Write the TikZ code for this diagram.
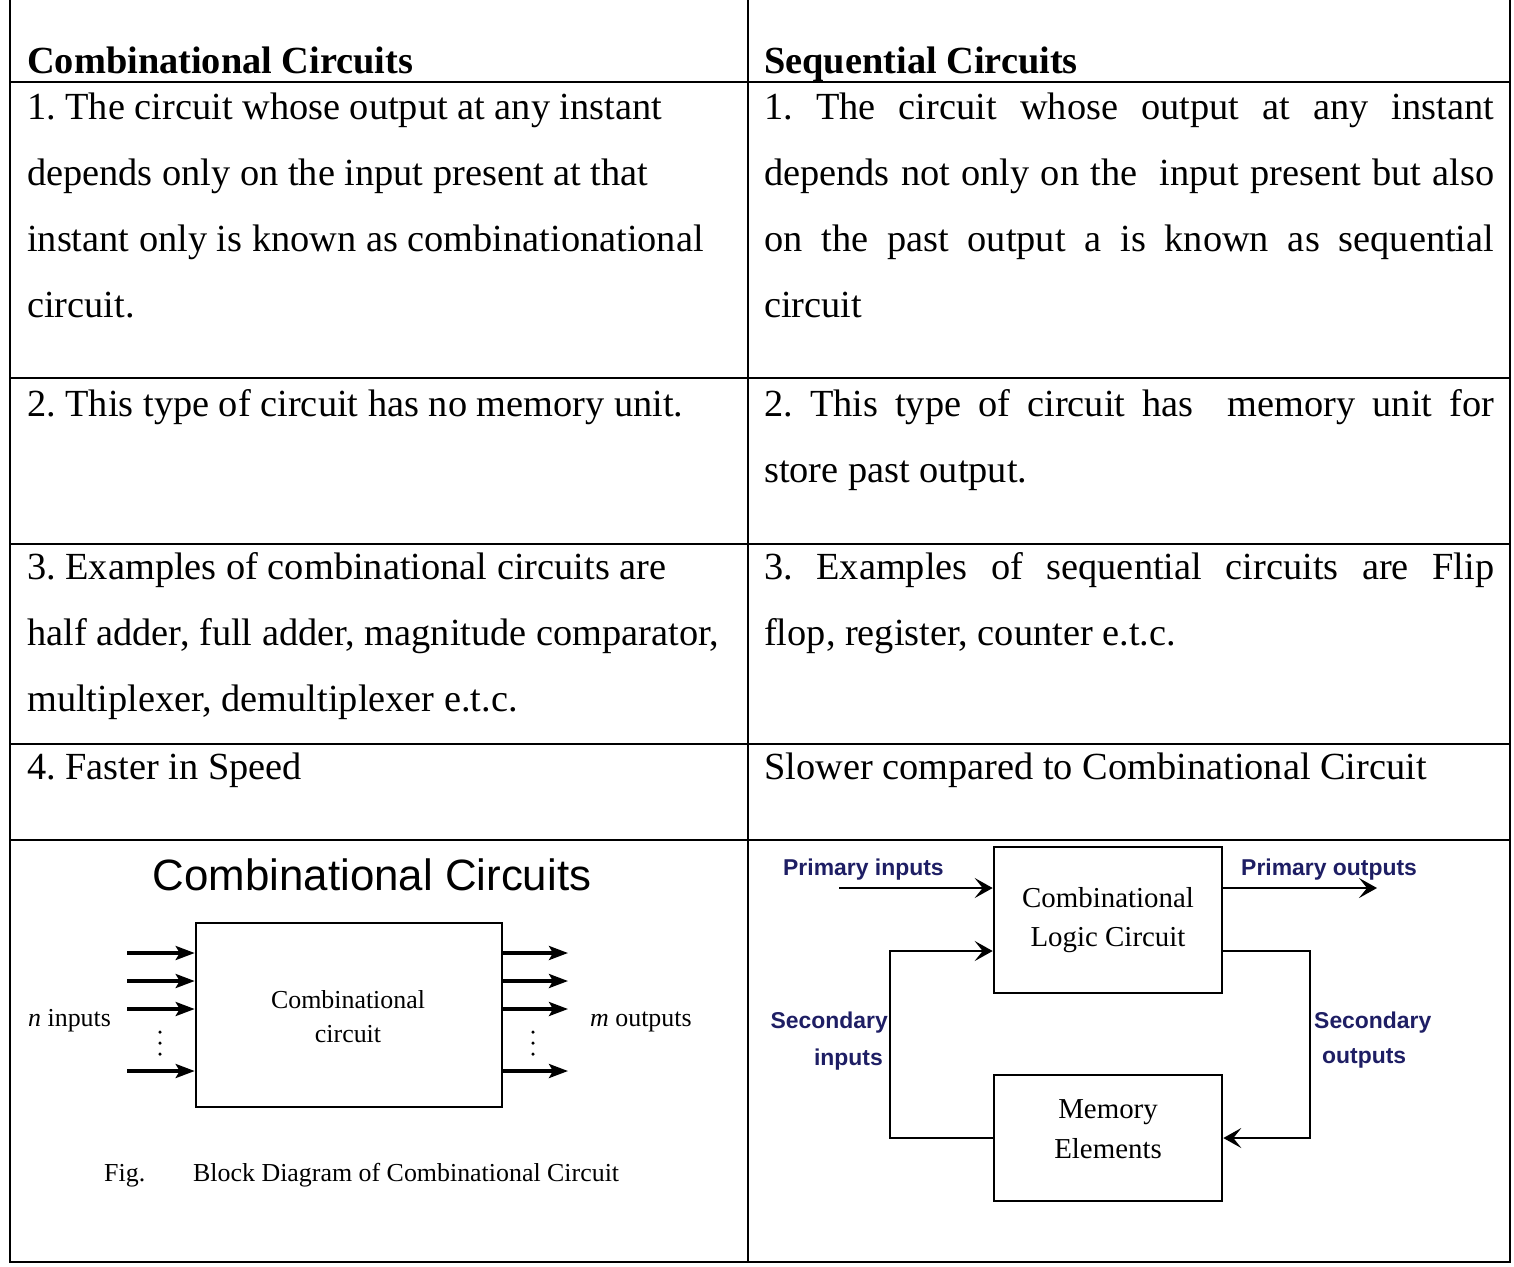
\documentclass[tikz,border=0pt]{standalone}
\usepackage{fontspec}
\setmainfont{Liberation Serif}
\newfontfamily\arialfont{Liberation Sans}
\usetikzlibrary{arrows.meta}
\definecolor{labelblue}{RGB}{30,30,100}
\frenchspacing

\begin{document}
\begin{tikzpicture}[x=1bp,y=-1bp,
  rule/.style={line width=2.4bp},
  txt/.style={anchor=base west, inner sep=0pt, font=\fontsize{38.5}{44}\selectfont\frenchspacing},
  hdr/.style={txt, font=\fontsize{38.5}{44}\selectfont\bfseries},
  dtxt/.style={anchor=base west, inner sep=0pt, font=\fontsize{26}{30}\selectfont},
  blocktxt/.style={anchor=base, inner sep=0pt, font=\fontsize{29}{34}\selectfont},
  blk/.style={draw, line width=2.6bp, inner sep=0pt},
  lbl/.style={inner sep=0pt, text=labelblue, font=\fontsize{23}{26}\selectfont\arialfont\bfseries},
  thinarr/.style={line width=3.4bp, -{Stealth[length=19bp,width=14bp,inset=4bp]}},
  wire/.style={line width=2.8bp},
  feedarr/.style={wire, -{Stealth[length=18bp,width=20bp,inset=8bp]}},
  dot/.style={fill, circle, inner sep=0pt, minimum size=3.5bp}
]
\useasboundingbox (0,0) rectangle (1514,1266);

% table rules
\draw[rule] (10,0) -- (10,1262) -- (1510,1262) -- (1510,0);
\draw[rule] (748,0) -- (748,1262);
\foreach \y in {82,378,544,744,840} \draw[rule] (10,\y) -- (1510,\y);

% header row
\node[hdr] (hl) at (27,73) {Combinational Circuits};
\node[hdr] (hr) at (764,73) {Sequential Circuits};

% left column
\node[txt] (l11) at (27,119) {1. The circuit whose output at any instant};
\node[txt] (l12) at (27,185) {depends only on the input present at that};
\node[txt] (l13) at (27,251) {instant only is known as combinationational};
\node[txt] (l14) at (27,317) {circuit.};
\node[txt] (l21) at (27,416) {2. This type of circuit has no memory unit.};
\node[txt] (l31) at (27,579) {3. Examples of combinational circuits are};
\node[txt] (l32) at (27,645) {half adder, full adder, magnitude comparator,};
\node[txt] (l33) at (27,711) {multiplexer, demultiplexer e.t.c.};
\node[txt] (l41) at (27,779) {4. Faster in Speed};

% right column (justified lines)
\node[txt] (r11) at (764,119) {\makebox[730bp][s]{1. The circuit whose output at any instant}};
\node[txt] (r12) at (764,185) {\makebox[730bp][s]{depends not only on the\ \ input present but also}};
\node[txt] (r13) at (764,251) {\makebox[730bp][s]{on the past output a is known as sequential}};
\node[txt] (r14) at (764,317) {circuit};
\node[txt] (r21) at (764,416) {\makebox[730bp][s]{2. This type of circuit has\ \ memory unit for}};
\node[txt] (r22) at (764,482) {store past output.};
\node[txt] (r31) at (764,579) {\makebox[730bp][s]{3. Examples of sequential circuits are Flip}};
\node[txt] (r32) at (764,645) {flop, register, counter e.t.c.};
\node[txt] (r41) at (764,779) {Slower compared to Combinational Circuit};

% ---- block diagram of a combinational circuit ----
\node[anchor=base, inner sep=0pt, font=\fontsize{44}{50}\selectfont\arialfont] (ttl) at (372,890) {Combinational Circuits};
\node[blk, minimum width=306bp, minimum height=184bp] (cc) at (349,1015) {};
\node[anchor=base, inner sep=0pt, font=\fontsize{26}{30}\selectfont] (cct1) at (348,1008) {Combinational};
\node[anchor=base, inner sep=0pt, font=\fontsize{26}{30}\selectfont] (cct2) at (348,1042) {circuit};
\foreach \y [count=\i] in {953,981,1009,1071} {
  \coordinate (in\i) at (127,\y);
  \coordinate (out\i) at (568,\y);
  \draw[thinarr] (in\i) -- (in\i -| cc.west);
  \draw[thinarr] (out\i -| cc.east) -- (out\i);
}
\foreach \y in {1032,1043,1054} {
  \node[dot] at (160,\y) {};
  \node[dot] at (533,\y) {};
}
\node[dtxt] (nin) at (28,1026) {\textit{n} inputs};
\node[dtxt] (mout) at (590,1026) {\textit{m} outputs};
\node[dtxt] (fig) at (104,1181) {Fig.};
\node[dtxt] (cap) at (193,1181) {Block Diagram of Combinational Circuit};

% ---- sequential circuit model ----
\node[blk, minimum width=228bp, minimum height=146bp] (clc) at (1108,920) {};
\node[blocktxt] (clct1) at (1108,907) {Combinational};
\node[blocktxt] (clct2) at (1108,946) {Logic Circuit};
\node[blk, minimum width=228bp, minimum height=126bp] (mem) at (1108,1138) {};
\node[blocktxt] (memt1) at (1108,1118) {Memory};
\node[blocktxt] (memt2) at (1108,1158) {Elements};

\coordinate (pin) at (839,888);
\coordinate (pout) at (1377,888);
\draw[feedarr] (pin) -- (pin -| clc.west);
\draw[feedarr] (pout -| clc.east) -- (pout);
\node[lbl, anchor=base west] (pinl) at (783,875) {Primary inputs};
\node[lbl, anchor=base west] (poutl) at (1241,875) {Primary outputs};

% feedback loop through the memory
\coordinate (sin) at (890,951);
\coordinate (sout) at (1310,951);
\draw[feedarr] (mem.west |- 0,1138) -| (sin) -- (sin -| clc.west);
\draw[feedarr] (sout -| clc.east) -- (sout) |- (mem.east |- 0,1138);
\node[lbl, anchor=base east] (sinl1) at (888,1028) {Secondary};
\node[lbl, anchor=base east] (sinl2) at (883,1065) {inputs};
\node[lbl, anchor=base west] (soutl1) at (1314,1028) {Secondary};
\node[lbl, anchor=base west] (soutl2) at (1322,1063) {outputs};
\end{tikzpicture}
\end{document}
